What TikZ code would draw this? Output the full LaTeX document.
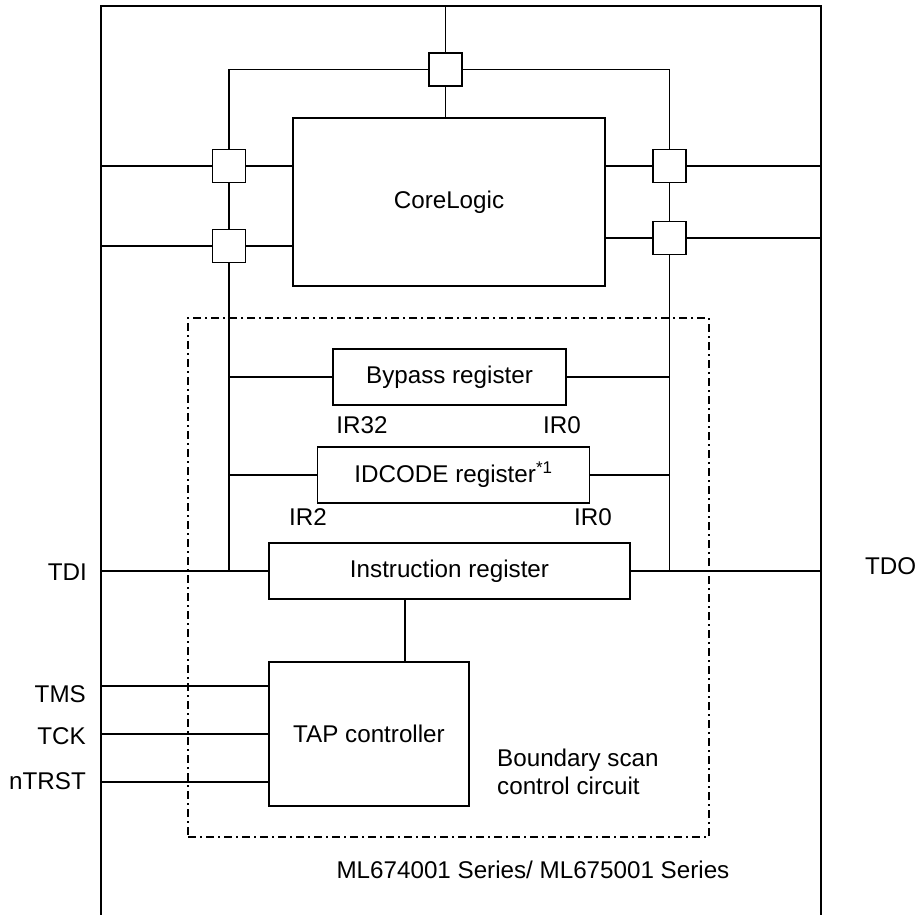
\documentclass[tikz,border=0pt]{standalone}
\usepackage{fontspec}
\setmainfont{Liberation Sans}
\usetikzlibrary{positioning,calc}
\tikzset{
  wire/.style={line width=1.9pt},
  reg/.style={draw, line width=1.9pt, fill=white, minimum height=56pt, inner sep=0pt, align=center},
  cell/.style={draw, line width=1.9pt, fill=white, minimum size=33pt, inner sep=0pt},
  bscan/.style={draw, line width=1.6pt, dash pattern=on 8pt off 4pt on 2pt off 4pt, inner sep=0pt},
  pin/.style={anchor=east, inner sep=0pt},
  lbl/.style={inner sep=0pt}
}

\begin{document}
\begin{tikzpicture}[x=1pt, y=-1pt, font=\fontsize{24.2}{28}\selectfont]
  \useasboundingbox (0,0) rectangle (919,915);
  % chip outline
  \draw[wire] (101,915) -- (101,6) -- (821,6) -- (821,915);

  \node[bscan, minimum width=521pt, minimum height=519pt] (bsc) at (448.5,577.5) {};

  \node[reg, minimum width=312pt, minimum height=168pt] (core) at (449,202) {CoreLogic};
  \node[cell] (ctop) at (445.5,69.5) {};
  \node[cell] (cl1) at (229,166) {};
  \node[cell] (cl2) at (229,246) {};
  \node[cell] (cr1) at (669.5,166) {};
  \node[cell] (cr2) at (669.5,238) {};

  \node[reg, minimum width=233pt] (byp) at (449.5,377) {Bypass register};
  \node[reg, minimum width=272pt] (idc) at (453.5,475) {IDCODE register\textsuperscript{*1}};
  \node[reg, minimum width=361pt] (ir) at (449.5,571) {Instruction register};
  \node[reg, minimum width=200pt, minimum height=144pt] (tap) at (369,734) {TAP controller};

  \node[lbl] (ir32) at (362,425) {IR32};
  \node[lbl] (ir0a) at (562,425) {IR0};
  \node[lbl] (ir2) at (308,517) {IR2};
  \node[lbl] (ir0b) at (593,517) {IR0};
  \node[lbl, anchor=west, align=left] (bsclbl) at (497,772) {Boundary scan\\control circuit};
  \node[lbl] (series) at (533,870) {ML674001 Series/ ML675001 Series};

  \node[pin] (tdi) at (87,572) {TDI};
  \node[pin] (tms) at (86,694) {TMS};
  \node[pin] (tck) at (86,736) {TCK};
  \node[pin] (trst) at (86,781) {nTRST};
  \node[lbl, anchor=west] (tdo) at (865,566) {TDO};

  % pins on the chip edge
  \coordinate (pT) at (445.5,6);
  \coordinate (pL1) at (101,166);
  \coordinate (pL2) at (101,246);
  \coordinate (pR1) at (821,166);
  \coordinate (pR2) at (821,238);
  \coordinate (pTDI) at (101,571);
  \coordinate (pTDO) at (821,571);
  \coordinate (pTMS) at (101,686);
  \coordinate (pTCK) at (101,734);
  \coordinate (pTRST) at (101,782);

  % scan chain around the core
  \draw[wire] (pT) -- (ctop);
  \draw[wire] (ctop) -- (ctop |- core.north);
  \draw[wire] (ctop) -| (cl1);
  \draw[wire] (ctop) -| (cr1);
  \draw[wire] (pL1) -- (cl1);
  \draw[wire] (cl1) -- (cl1 -| core.west);
  \draw[wire] (pL2) -- (cl2);
  \draw[wire] (cl2) -- (cl2 -| core.west);
  \draw[wire] (cr1) -- (cr1 -| core.east);
  \draw[wire] (cr1) -- (pR1);
  \draw[wire] (cr2) -- (cr2 -| core.east);
  \draw[wire] (cr2) -- (pR2);
  \draw[wire] (cl1) -- (cl2);
  \draw[wire] (cr1) -- (cr2);
  \draw[wire] (cl2) -- (cl2 |- ir.west);
  \draw[wire] (cr2) -- (cr2 |- ir.east);

  % registers
  \draw[wire] (byp.west) -- (byp.west -| cl2);
  \draw[wire] (byp.east) -- (byp.east -| cr2);
  \draw[wire] (idc.west) -- (idc.west -| cl2);
  \draw[wire] (idc.east) -- (idc.east -| cr2);
  \draw[wire] (pTDI) -- (ir.west);
  \draw[wire] (ir.east) -- (pTDO);
  \draw[wire] ([xshift=36pt]tap.north) -- ([xshift=36pt]tap.north |- ir.south);

  % TAP inputs
  \draw[wire] (pTMS) -- (pTMS -| tap.west);
  \draw[wire] (pTCK) -- (pTCK -| tap.west);
  \draw[wire] (pTRST) -- (pTRST -| tap.west);
\end{tikzpicture}
\end{document}
